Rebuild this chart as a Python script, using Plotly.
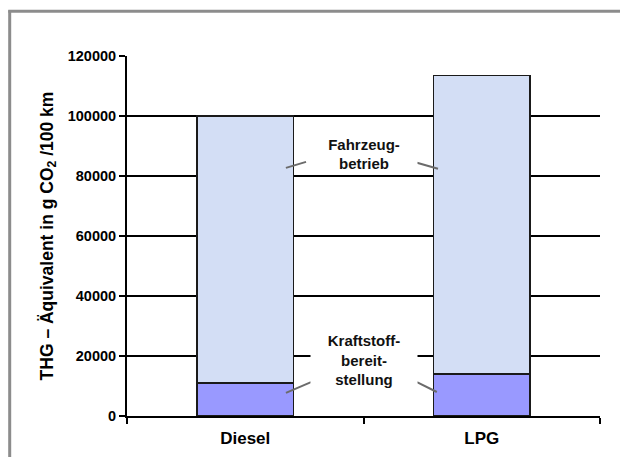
import plotly.graph_objects as go

# Treibhausgas-Emissionen je 100 km, aufgeteilt nach Lebenszyklusabschnitt
kraftstoffe = ["Diesel", "LPG"]
bereitstellung = [11000, 14000]
fahrzeugbetrieb = [89000, 99500]

y_ticks = [0, 20000, 40000, 60000, 80000, 100000, 120000]

FONT = "Arial, 'Liberation Sans', sans-serif"

fig = go.Figure()
fig.add_trace(go.Bar(
    x=kraftstoffe, y=bereitstellung, name="Kraftstoffbereitstellung",
    marker=dict(color="#9999ff", line=dict(color="#1a1a1a", width=1.5)),
))
fig.add_trace(go.Bar(
    x=kraftstoffe, y=fahrzeugbetrieb, name="Fahrzeugbetrieb",
    marker=dict(color="#d3def5", line=dict(color="#1a1a1a", width=1.5)),
))

# Beschriftungen der Segmente mit Hinweislinien
labels = [
    dict(text="Fahrzeug-<br>betrieb", y=87300, height=34,
         lines=[(0.172, 82700, 0.257, 84700), (0.726, 84400, 0.815, 82400)]),
    dict(text="Kraftstoff-<br>bereit-<br>stellung", y=18700, height=88,
         lines=[(0.172, 7700, 0.278, 11300), (0.726, 11300, 0.810, 8000)]),
]
for lab in labels:
    for x0, y0, x1, y1 in lab["lines"]:
        fig.add_shape(type="line", xref="x", yref="y", x0=x0, y0=y0, x1=x1, y1=y1,
                      line=dict(color="#6b6b6b", width=2))
    fig.add_annotation(
        x=0.5, y=lab["y"], xref="x", yref="y", text=lab["text"], showarrow=False,
        bgcolor="white", width=104, height=lab["height"], align="center",
        font=dict(family=FONT, size=15, color="#111111", weight="bold"),
    )

# grauer Rahmen: linke Kante und obere Kante
fig.add_shape(type="line", xref="paper", yref="paper",
              x0=-0.248, y0=-0.115, x1=-0.248, y1=1.127,
              line=dict(color="#8c8c8c", width=3))
fig.add_shape(type="line", xref="paper", yref="paper",
              x0=-0.251, y0=1.124, x1=1.045, y1=1.124,
              line=dict(color="#8c8c8c", width=3))

fig.update_layout(
    width=620, height=457,
    margin=dict(l=127, r=20, t=56, b=41),
    paper_bgcolor="white", plot_bgcolor="white",
    barmode="stack", bargap=0.594, showlegend=False,
    font=dict(family=FONT, color="#000000"),
)
fig.update_xaxes(
    type="category", tickson="boundaries", ticks="outside", ticklen=6,
    tickwidth=1.5, tickcolor="#000", showline=True, linecolor="#000", linewidth=2,
    showgrid=False, ticklabelstandoff=6, automargin=False,
    tickfont=dict(family=FONT, size=17, weight="bold", color="#000"),
)
fig.update_yaxes(
    range=[0, 120000], tickvals=y_ticks, ticktext=[str(v) for v in y_ticks],
    ticks="outside", ticklen=6, tickwidth=1.5, tickcolor="#000",
    showline=True, linecolor="#000", linewidth=2, automargin=False,
    showgrid=True, gridcolor="#000", gridwidth=1.8, zeroline=False,
    tickfont=dict(family=FONT, size=14.5, weight="bold", color="#000"),
    title=dict(text="THG – Äquivalent in g CO<sub>2</sub> /100 km", standoff=10,
               font=dict(family=FONT, size=17.5, weight="bold", color="#000")),
)

fig.write_html("out.html")
